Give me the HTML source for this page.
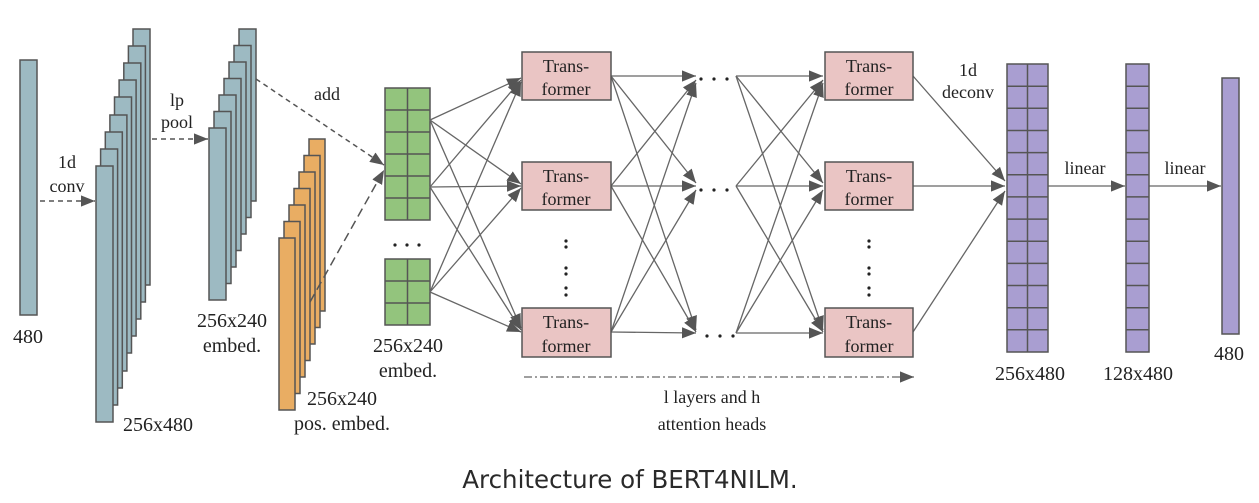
<!DOCTYPE html>
<html><head><meta charset="utf-8"><style>
html,body{margin:0;padding:0;background:#fff;}
svg{display:block}
text{font-family:"Liberation Serif",serif;fill:#222;}
</style></head><body>
<svg width="1259" height="503" viewBox="0 0 1259 503" xmlns="http://www.w3.org/2000/svg">
<defs>
<marker id="a" viewBox="0 0 10 10" refX="10" refY="5" markerWidth="14" markerHeight="14" markerUnits="userSpaceOnUse" orient="auto"><path d="M0,1 L10,5 L0,9 Z" fill="#555"/></marker>
</defs>
<g stroke="#555" stroke-width="1.5" fill="#9dbac2">
<rect x="20" y="60" width="17" height="255"/>
<rect x="133" y="29" width="17" height="256"/>
<rect x="128.4" y="46" width="17" height="256"/>
<rect x="123.8" y="63" width="17" height="256"/>
<rect x="119.1" y="80" width="17" height="256"/>
<rect x="114.5" y="97" width="17" height="256"/>
<rect x="109.9" y="115" width="17" height="256"/>
<rect x="105.3" y="132" width="17" height="256"/>
<rect x="100.6" y="149" width="17" height="256"/>
<rect x="96" y="166" width="17" height="256"/>
<rect x="239" y="29" width="17" height="172"/>
<rect x="234" y="45.5" width="17" height="172"/>
<rect x="229" y="62" width="17" height="172"/>
<rect x="224" y="78.5" width="17" height="172"/>
<rect x="219" y="95" width="17" height="172"/>
<rect x="214" y="111.5" width="17" height="172"/>
<rect x="209" y="128" width="17" height="172"/>
</g>
<g stroke="#555" stroke-width="1.5" fill="#e9ad63">
<rect x="309" y="139" width="16" height="172"/>
<rect x="304" y="155.5" width="16" height="172"/>
<rect x="299" y="172" width="16" height="172"/>
<rect x="294" y="188.5" width="16" height="172"/>
<rect x="289" y="205" width="16" height="172"/>
<rect x="284" y="221.5" width="16" height="172"/>
<rect x="279" y="238" width="16" height="172"/>
</g>
<g stroke="#555" stroke-width="1.5" fill="none" stroke-dasharray="5,4">
<line x1="40" y1="201" x2="95" y2="201" marker-end="url(#a)"/>
<line x1="152" y1="139" x2="208" y2="139" marker-end="url(#a)"/>
<line x1="256" y1="79" x2="384" y2="165" marker-end="url(#a)"/>
<line x1="310" y1="302" x2="384" y2="170" stroke-dasharray="9,5" marker-end="url(#a)"/>
</g>
<g stroke="#555" stroke-width="1.5" fill="#93c47d">
<rect x="385" y="88" width="45" height="132"/>
<rect x="385" y="259" width="45" height="66"/>
</g>
<g stroke="#555" stroke-width="1.5">
<line x1="407.5" y1="88" x2="407.5" y2="220"/>
<line x1="385" y1="110" x2="430" y2="110"/><line x1="385" y1="132" x2="430" y2="132"/><line x1="385" y1="154" x2="430" y2="154"/><line x1="385" y1="176" x2="430" y2="176"/><line x1="385" y1="198" x2="430" y2="198"/>
<line x1="407.5" y1="259" x2="407.5" y2="325"/>
<line x1="385" y1="281" x2="430" y2="281"/><line x1="385" y1="303" x2="430" y2="303"/>
</g>
<g stroke="#666" stroke-width="1.3" fill="none">
<line x1="430" y1="120" x2="521" y2="78" marker-end="url(#a)"/>
<line x1="430" y1="120" x2="521" y2="184" marker-end="url(#a)"/>
<line x1="430" y1="120" x2="521" y2="328" marker-end="url(#a)"/>
<line x1="430" y1="187" x2="521" y2="80" marker-end="url(#a)"/>
<line x1="430" y1="187" x2="521" y2="186" marker-end="url(#a)"/>
<line x1="430" y1="187" x2="521" y2="330" marker-end="url(#a)"/>
<line x1="430" y1="292" x2="521" y2="82" marker-end="url(#a)"/>
<line x1="430" y1="292" x2="521" y2="188" marker-end="url(#a)"/>
<line x1="430" y1="292" x2="521" y2="332" marker-end="url(#a)"/>
<line x1="611" y1="76" x2="696" y2="76" marker-end="url(#a)"/>
<line x1="611" y1="76" x2="696" y2="183" marker-end="url(#a)"/>
<line x1="611" y1="76" x2="696" y2="330" marker-end="url(#a)"/>
<line x1="611" y1="186" x2="696" y2="80" marker-end="url(#a)"/>
<line x1="611" y1="186" x2="696" y2="186" marker-end="url(#a)"/>
<line x1="611" y1="186" x2="696" y2="332" marker-end="url(#a)"/>
<line x1="611" y1="332" x2="696" y2="83" marker-end="url(#a)"/>
<line x1="611" y1="332" x2="696" y2="190" marker-end="url(#a)"/>
<line x1="611" y1="332" x2="696" y2="333" marker-end="url(#a)"/>
<line x1="736" y1="76" x2="823" y2="76" marker-end="url(#a)"/>
<line x1="736" y1="76" x2="823" y2="183" marker-end="url(#a)"/>
<line x1="736" y1="76" x2="823" y2="330" marker-end="url(#a)"/>
<line x1="736" y1="186" x2="823" y2="80" marker-end="url(#a)"/>
<line x1="736" y1="186" x2="823" y2="186" marker-end="url(#a)"/>
<line x1="736" y1="186" x2="823" y2="332" marker-end="url(#a)"/>
<line x1="736" y1="333" x2="823" y2="83" marker-end="url(#a)"/>
<line x1="736" y1="333" x2="823" y2="190" marker-end="url(#a)"/>
<line x1="736" y1="333" x2="823" y2="333" marker-end="url(#a)"/>
<line x1="913" y1="76" x2="1005" y2="181" marker-end="url(#a)"/>
<line x1="913" y1="186" x2="1005" y2="186" marker-end="url(#a)"/>
<line x1="913" y1="332" x2="1005" y2="191" marker-end="url(#a)"/>
<line x1="1048" y1="186" x2="1125" y2="186" marker-end="url(#a)"/>
<line x1="1149" y1="186" x2="1221" y2="186" marker-end="url(#a)"/>
<line x1="524" y1="377" x2="914" y2="377" stroke-dasharray="8,3,2,3" marker-end="url(#a)"/>
</g>
<g stroke="#555" stroke-width="1.5" fill="#eac5c4">
<rect x="522" y="52" width="89" height="48"/>
<rect x="522" y="162" width="89" height="48"/>
<rect x="522" y="308" width="89" height="49"/>
<rect x="825" y="52" width="88" height="48"/>
<rect x="825" y="162" width="88" height="48"/>
<rect x="825" y="308" width="88" height="49"/>
</g>
<g font-size="18" text-anchor="middle">
<text x="566" y="72">Trans-</text><text x="566" y="95">former</text>
<text x="566" y="182">Trans-</text><text x="566" y="205">former</text>
<text x="566" y="328">Trans-</text><text x="566" y="352">former</text>
<text x="869" y="72">Trans-</text><text x="869" y="95">former</text>
<text x="869" y="182">Trans-</text><text x="869" y="205">former</text>
<text x="869" y="328">Trans-</text><text x="869" y="352">former</text>
</g>
<g fill="#222">
<circle cx="701" cy="79" r="1.6"/><circle cx="714" cy="79" r="1.6"/><circle cx="727" cy="79" r="1.6"/>
<circle cx="701" cy="190" r="1.6"/><circle cx="714" cy="190" r="1.6"/><circle cx="727" cy="190" r="1.6"/>
<circle cx="707" cy="336" r="1.6"/><circle cx="720" cy="336" r="1.6"/><circle cx="733" cy="336" r="1.6"/>
<circle cx="395" cy="245" r="1.6"/><circle cx="407" cy="245" r="1.6"/><circle cx="419" cy="245" r="1.6"/>
<circle cx="566" cy="241" r="1.6"/><circle cx="566" cy="247" r="1.6"/><circle cx="566" cy="268" r="1.6"/><circle cx="566" cy="274" r="1.6"/><circle cx="566" cy="288" r="1.6"/><circle cx="566" cy="295" r="1.6"/>
<circle cx="869" cy="241" r="1.6"/><circle cx="869" cy="247" r="1.6"/><circle cx="869" cy="268" r="1.6"/><circle cx="869" cy="274" r="1.6"/><circle cx="869" cy="288" r="1.6"/><circle cx="869" cy="295" r="1.6"/>
</g>
<g stroke="#555" stroke-width="1.5" fill="#a99ed1">
<rect x="1007" y="64" width="41" height="288"/>
<rect x="1126" y="64" width="23" height="288"/>
<rect x="1222" y="78" width="17" height="256"/>
</g>
<g stroke="#555" stroke-width="1.5">
<line x1="1027.5" y1="64" x2="1027.5" y2="352"/>
<path d="M1007,86.2H1048M1007,108.3H1048M1007,130.5H1048M1007,152.6H1048M1007,174.8H1048M1007,196.9H1048M1007,219.1H1048M1007,241.2H1048M1007,263.4H1048M1007,285.5H1048M1007,307.7H1048M1007,329.8H1048"/>
<path d="M1126,86.2H1149M1126,108.3H1149M1126,130.5H1149M1126,152.6H1149M1126,174.8H1149M1126,196.9H1149M1126,219.1H1149M1126,241.2H1149M1126,263.4H1149M1126,285.5H1149M1126,307.7H1149M1126,329.8H1149"/>
</g>
<g font-size="20" text-anchor="middle">
<text x="28" y="343">480</text>
<text x="158" y="431">256x480</text>
<text x="232" y="327">256x240</text><text x="232" y="352">embed.</text>
<text x="342" y="405">256x240</text><text x="342" y="430">pos. embed.</text>
<text x="408" y="352">256x240</text><text x="408" y="377">embed.</text>
<text x="1030" y="380">256x480</text>
<text x="1138" y="380">128x480</text>
<text x="1229" y="360">480</text>
</g>
<g font-size="18" text-anchor="middle">
<text x="67" y="168">1d</text><text x="67" y="192">conv</text>
<text x="177" y="106">lp</text><text x="177" y="128">pool</text>
<text x="327" y="100">add</text>
<text x="968" y="76">1d</text><text x="968" y="98">deconv</text>
<text x="1085" y="174">linear</text>
<text x="1185" y="174">linear</text>
<text x="712" y="403">l layers and h</text>
<text x="712" y="430">attention heads</text>
</g>
<text x="630" y="488" text-anchor="middle" font-size="24.5" style="font-family:'DejaVu Sans',sans-serif;fill:#2a2a2a">Architecture of BERT4NILM.</text>
</svg>
</body></html>
